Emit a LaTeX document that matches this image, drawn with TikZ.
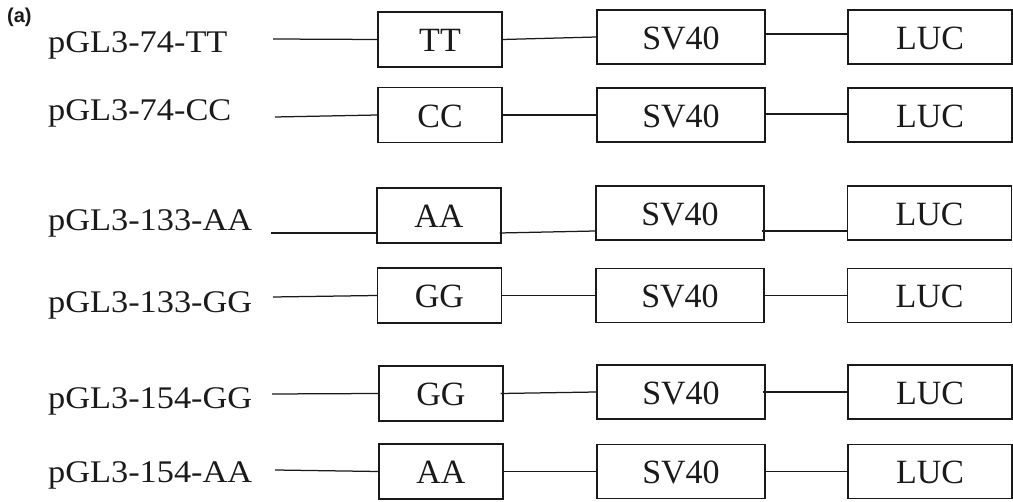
\documentclass[tikz,border=0pt]{standalone}
\usepackage{fontspec}
\setmainfont{Liberation Serif}
\newfontfamily\labfont[FakeStretch=1.09]{Liberation Serif}
\newfontfamily\panelfont{Liberation Sans}
\usetikzlibrary{calc}
\definecolor{ink}{HTML}{1A1A1A}
\tikzset{
  partbox/.style={draw=ink, line width=1.25pt, inner sep=0pt, text=ink,
    text height=25pt, text depth=0pt,
    font=\fontsize{34}{38}\selectfont},
  allele/.style={partbox, minimum width=124pt, minimum height=55pt},
  promoter/.style={partbox, minimum width=168pt, minimum height=54pt},
  reporter/.style={partbox, minimum width=164pt, minimum height=54pt},
  cname/.style={anchor=base west, inner sep=0pt, text=ink,
    font=\labfont\fontsize{31.5}{35}\selectfont},
  wire/.style={draw=ink, line width=1.25pt}
}
\begin{document}
\begin{tikzpicture}[x=1pt, y=-1pt]
\useasboundingbox (0,0) rectangle (1013,502);

\node[anchor=base west, inner sep=0pt, text=ink,
  font=\panelfont\bfseries\fontsize{20}{22}\selectfont] (panel) at (7,23) {(a)};

% construct names
\node[cname] (n1) at (48,53)  {pGL3-74-TT};
\node[cname] (n2) at (48,121) {pGL3-74-CC};
\node[cname] (n3) at (48,231) {pGL3-133-AA};
\node[cname] (n4) at (48,313) {pGL3-133-GG};
\node[cname] (n5) at (48,409) {pGL3-154-GG};
\node[cname] (n6) at (48,483) {pGL3-154-AA};

% allele boxes
\node[allele] (a1) at (440,39.5)  {TT};
\node[allele] (a2) at (440,115)   {CC};
\node[allele] (a3) at (439,215.5) {AA};
\node[allele] (a4) at (439.5,295.5) {GG};
\node[allele] (a5) at (441,393.5) {GG};
\node[allele] (a6) at (441,471.5) {AA};

% SV40 promoter boxes
\node[promoter] (s1) at (681,37)    {SV40};
\node[promoter] (s2) at (681,115)   {SV40};
\node[promoter] (s3) at (680,213)   {SV40};
\node[promoter] (s4) at (680,295.5) {SV40};
\node[promoter] (s5) at (681,392)   {SV40};
\node[promoter] (s6) at (681,471.5) {SV40};

% luciferase boxes
\node[reporter] (l1) at (930,37)    {LUC};
\node[reporter] (l2) at (930,115)   {LUC};
\node[reporter] (l3) at (929.5,213) {LUC};
\node[reporter] (l4) at (929.5,295.5) {LUC};
\node[reporter] (l5) at (930,392)   {LUC};
\node[reporter] (l6) at (930,471.5) {LUC};

% free upstream ends of the backbone
\coordinate (e1) at (273,39);
\coordinate (e2) at (275,117);
\coordinate (e3) at (271,233);
\coordinate (e4) at (273,297);
\coordinate (e5) at (272,394);
\coordinate (e6) at (275,470);

% backbone segments
\draw[wire] (e1) -- (a1.west);
\draw[wire] (a1.east) -- (s1.west);
\draw[wire] ($(s1.east)+(0,-3)$) -- ($(l1.west)+(0,-3)$);

\draw[wire] (e2) -- (a2.west);
\draw[wire] (a2.east) -- (s2.west);
\draw[wire] ($(s2.east)+(0,-1)$) -- ($(l2.west)+(0,-1)$);

\draw[wire] (e3) -- ($(a3.west)+(0,17.5)$);
\draw[wire] ($(a3.east)+(-2,17.5)$) -- ($(s3.west)+(0,18)$);
\draw[wire] ($(s3.east)+(-3,18)$) -- ($(l3.west)+(0,18)$);

\draw[wire] (e4) -- (a4.west);
\draw[wire] (a4.east) -- (s4.west);
\draw[wire] (s4.east) -- (l4.west);

\draw[wire] (e5) -- (a5.west);
\draw[wire] ($(a5.east)+(-3,0)$) -- (s5.west);
\draw[wire] ($(s5.east)+(-3,0)$) -- (l5.west);

\draw[wire] (e6) -- (a6.west);
\draw[wire] (a6.east) -- (s6.west);
\draw[wire] (s6.east) -- (l6.west);
\end{tikzpicture}
\end{document}
